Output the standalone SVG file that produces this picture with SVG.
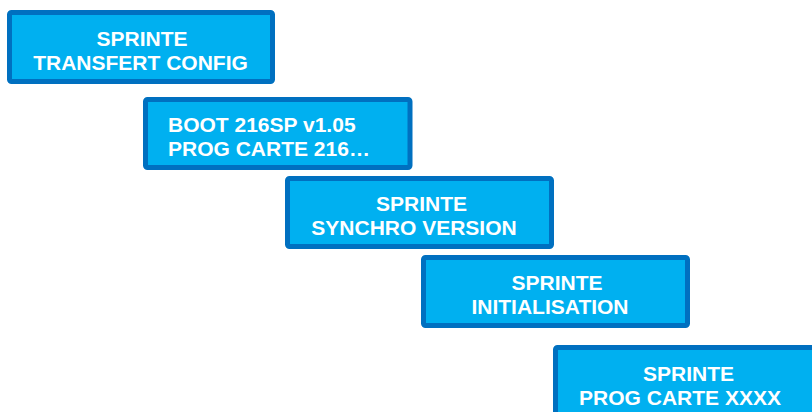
<svg xmlns="http://www.w3.org/2000/svg" width="812" height="412" viewBox="0 0 812 412">
<style>
.box{fill:#00B0F0;stroke:#0070C0;stroke-width:5}
.t{font-family:"Liberation Sans",Arial,sans-serif;font-weight:bold;font-size:21px;fill:#FFFFFF}
.c{text-anchor:middle}
</style>
<rect width="812" height="412" fill="#FFFFFF"/>
<g id="node1">
<rect class="box" x="9.5" y="12.5" width="263" height="69" rx="2"/>
<text class="t c" x="142" y="46">SPRINTE</text>
<text class="t c" x="140.5" y="69.5">TRANSFERT CONFIG</text>
</g>
<g id="node2">
<rect class="box" x="145.5" y="99.5" width="264.5" height="68" rx="2"/>
<text class="t" x="168" y="132">BOOT 216SP v1.05</text>
<text class="t" x="168" y="156">PROG CARTE 216…</text>
</g>
<g id="node3">
<rect class="box" x="287.5" y="178.5" width="264" height="68" rx="2"/>
<text class="t c" x="421.5" y="211">SPRINTE</text>
<text class="t c" x="414" y="234.5">SYNCHRO VERSION</text>
</g>
<g id="node4">
<rect class="box" x="423.5" y="257.5" width="264" height="68" rx="2"/>
<text class="t c" x="557" y="290">SPRINTE</text>
<text class="t c" x="550" y="313.5">INITIALISATION</text>
</g>
<g id="node5">
<rect class="box" x="555.5" y="347.5" width="264" height="69" rx="2"/>
<text class="t c" x="688.5" y="381">SPRINTE</text>
<text class="t c" x="680" y="404.5">PROG CARTE XXXX</text>
</g>
</svg>
